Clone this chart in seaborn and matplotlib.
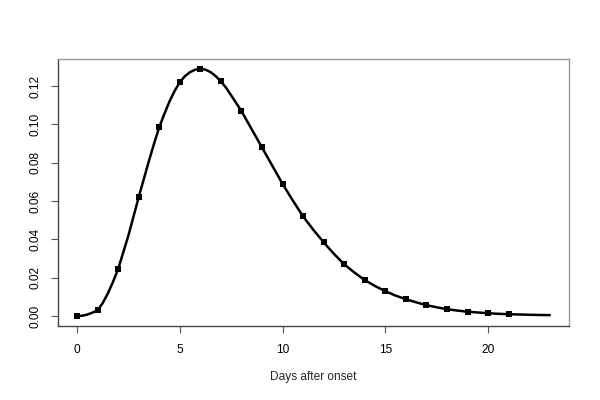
import matplotlib
matplotlib.use("Agg")
import matplotlib.pyplot as plt
import seaborn as sns
import pandas as pd

# Observed points (integer days)
days = list(range(0, 22))
density = [0.000, 0.003, 0.0245, 0.062, 0.0985, 0.122, 0.129, 0.1225, 0.107, 0.088,
           0.069, 0.052, 0.0385, 0.027, 0.0188, 0.013, 0.0088, 0.0057, 0.0036, 0.0023,
           0.0015, 0.0010]

# Smooth curve (extends to day 23)
curve_days = [0, 0.25, 0.5, 0.75, 1, 1.25, 1.5, 1.75, 2, 2.5, 3, 3.5, 3.75, 4, 4.25,
              4.5, 4.75, 5, 5.25, 5.5, 5.75, 6, 6.25, 6.5, 6.75, 7, 7.25, 7.5, 8, 8.5,
              9, 9.5, 10, 10.5, 11, 11.5, 12, 12.5, 13, 13.5, 14, 14.5, 15, 15.5, 16,
              16.5, 17, 17.5, 18, 18.5, 19, 19.5, 20, 20.5, 21, 22, 23]
curve_vals = [0.0, 0.0002, 0.0008, 0.0018, 0.003, 0.0068, 0.0118, 0.0178, 0.0245, 0.042,
              0.062, 0.081, 0.090, 0.0985, 0.1055, 0.112, 0.1175, 0.122, 0.1252, 0.1273,
              0.1286, 0.129, 0.1286, 0.1273, 0.1252, 0.1225, 0.1192, 0.1152, 0.107,
              0.0975, 0.088, 0.0785, 0.069, 0.0603, 0.052, 0.045, 0.0385, 0.0325, 0.027,
              0.0227, 0.0188, 0.0157, 0.013, 0.0107, 0.0088, 0.0072, 0.0057, 0.0046,
              0.0036, 0.0029, 0.0023, 0.0019, 0.0015, 0.0012, 0.0010, 0.0007, 0.0005]

xticks = [0, 5, 10, 15, 20]
yticks = [0.00, 0.02, 0.04, 0.06, 0.08, 0.10, 0.12]
ytick_labels = ["0.00", "0.02", "0.04", "0.06", "0.08", "0.10", "0.12"]

sns.set_style("white")
plt.rcParams['font.family'] = ['Liberation Sans', 'DejaVu Sans']

fig = plt.figure(figsize=(6, 4), dpi=100)
ax = fig.add_axes([0.0968, 0.185, 0.851, 0.6675])

curve_df = pd.DataFrame({"day": curve_days, "val": curve_vals})
pts_df = pd.DataFrame({"day": days, "val": density})

sns.lineplot(data=curve_df, x="day", y="val", ax=ax, color="black", lw=1.8,
             sort=True, estimator=None, solid_joinstyle="round", solid_capstyle="round")
sns.scatterplot(data=pts_df, x="day", y="val", ax=ax, color="black", marker="s",
                s=22, linewidth=0, zorder=3)

ax.set_xlim(-0.92, 23.92)
ax.set_ylim(-0.00516, 0.13416)
ax.set_xticks(xticks)
ax.set_xticklabels([str(t) for t in xticks])
ax.set_yticks(yticks)
ax.set_yticklabels(ytick_labels, rotation=90, va="center")
ax.tick_params(axis="both", direction="out", length=5, width=0.8, color="#555555",
               labelsize=8.6, labelcolor="black", bottom=True, left=True)
ax.tick_params(axis="x", pad=8)
ax.tick_params(axis="y", pad=7)

for side in ["top", "right"]:
    ax.spines[side].set_color("#999999")
    ax.spines[side].set_linewidth(1.0)
for side in ["left", "bottom"]:
    ax.spines[side].set_color("#444444")
    ax.spines[side].set_linewidth(1.0)

ax.set_xlabel("Days after onset", fontsize=8.6, labelpad=11)
ax.set_ylabel("")

fig.savefig("out.png", dpi=100)
